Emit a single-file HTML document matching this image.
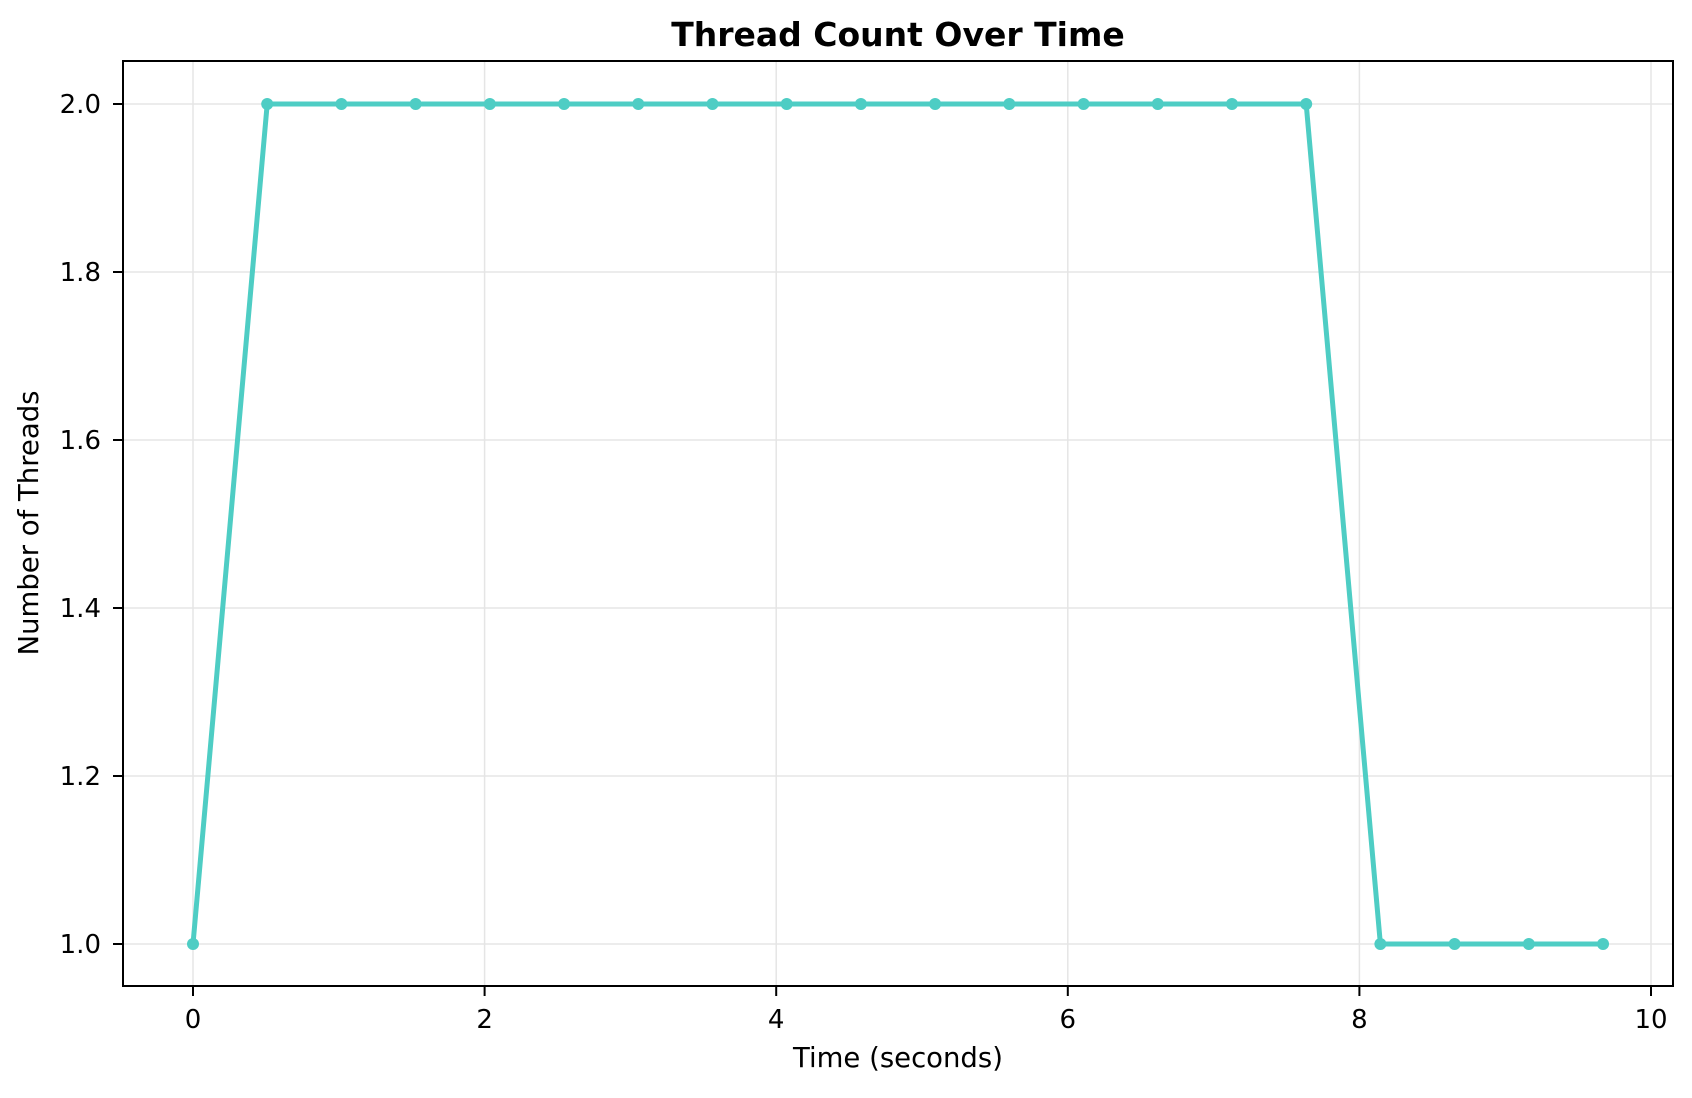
<!DOCTYPE html>
<html><head><meta charset="utf-8"><style>
body{margin:0;background:#fff;}
svg text{font-family:"DejaVu Sans","Liberation Sans",sans-serif;fill:#000;}
</style></head><body>
<svg id="chart" width="1692" height="1093" xmlns="http://www.w3.org/2000/svg">
<rect width="1692" height="1093" fill="#fff"/>
<g id="grid"></g>
<g id="series"></g>
<rect x="123" y="61" width="1550" height="925" fill="none" stroke="#000" stroke-width="2"/>
<g id="ticks"></g>
<text x="898" y="46" text-anchor="middle" font-size="33" font-weight="bold">Thread Count Over Time</text>
<text x="898" y="1067" text-anchor="middle" font-size="27.5">Time (seconds)</text>
<text transform="translate(38,523) rotate(-90)" text-anchor="middle" font-size="27.5">Number of Threads</text>
</svg>
<script>
const times=[0,0.509,1.018,1.527,2.036,2.545,3.054,3.563,4.072,4.581,5.09,5.599,6.108,6.617,7.126,7.635,8.144,8.653,9.162,9.671];
const threads=[1,2,2,2,2,2,2,2,2,2,2,2,2,2,2,2,1,1,1,1];
const xTicks=[0,2,4,6,8,10];
const yTicks=[1.0,1.2,1.4,1.6,1.8,2.0];
const NS='http://www.w3.org/2000/svg';
const xs=v=>193+v*145.8;
const ys=v=>944-(v-1)*840;
function mk(tag,attrs,parent){const e=document.createElementNS(NS,tag);for(const k in attrs)e.setAttribute(k,attrs[k]);parent.appendChild(e);return e;}
const grid=document.getElementById('grid'),ticks=document.getElementById('ticks'),series=document.getElementById('series');
xTicks.forEach(t=>{
 const g=mk('line',{x1:xs(t),x2:xs(t),y1:61,y2:986,stroke:'#e5e5e5','stroke-width':1.5},grid);
 
 
 const tk=mk('line',{x1:xs(t),x2:xs(t),y1:986,y2:996,stroke:'#000','stroke-width':2},ticks);
 
 
 const lb=mk('text',{x:xs(t),y:1028,'text-anchor':'middle','font-size':'26'},ticks);
 lb.textContent=String(t);
 
 
});
yTicks.forEach(t=>{
 const g=mk('line',{x1:123,x2:1673,y1:ys(t),y2:ys(t),stroke:'#e5e5e5','stroke-width':1.5},grid);
 
 
 const tk=mk('line',{x1:113,x2:123,y1:ys(t),y2:ys(t),stroke:'#000','stroke-width':2},ticks);
 
 
 const lb=mk('text',{x:101,y:ys(t)+9,'text-anchor':'end','font-size':'26'},ticks);
 lb.textContent=t.toFixed(1);
 
 
});
const pts=times.map((t,i)=>xs(t)+','+ys(threads[i])).join(' ');
const pl=mk('polyline',{points:pts,fill:'none',stroke:'#4ecdc4','stroke-width':5,'stroke-linejoin':'round'},series);


times.forEach((t,i)=>{
 const c=mk('circle',{cx:xs(t),cy:ys(threads[i]),r:6,fill:'#4ecdc4'},series);
 
 
});
</script>
</body></html>
